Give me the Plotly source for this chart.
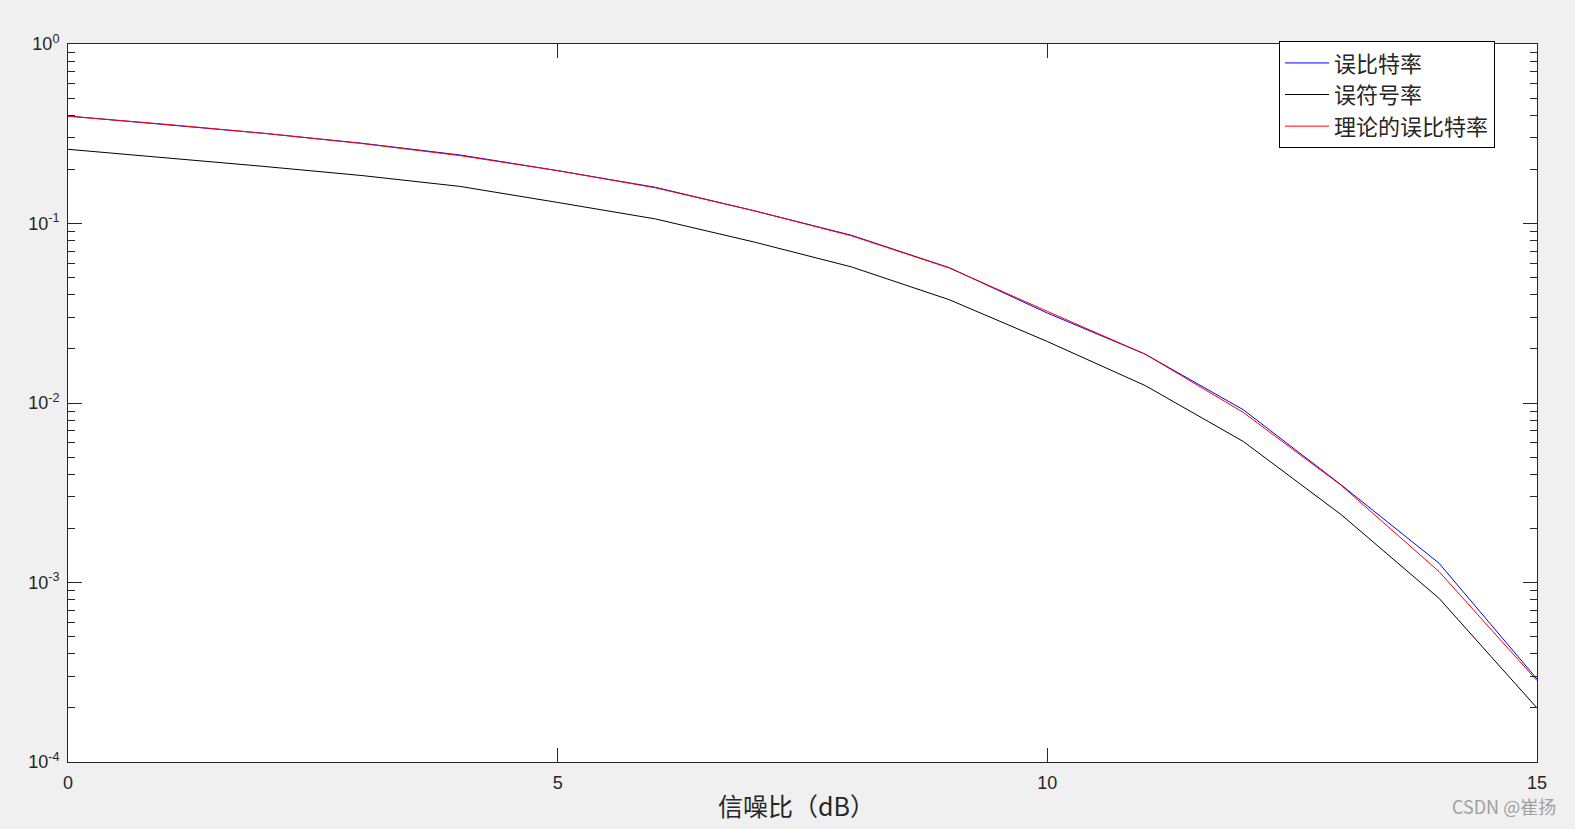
import plotly.graph_objects as go

# 信噪比 (dB)
snr_db = list(range(16))

# 误比特率 (仿真)
ber_sim = [0.397, 0.357, 0.318, 0.280, 0.241, 0.197, 0.159, 0.118, 0.0860, 0.0567,
           0.0317, 0.0187, 0.00918, 0.00350, 0.00128, 0.000290]
# 误符号率
ser_sim = [0.259, 0.233, 0.208, 0.185, 0.161, 0.131, 0.106, 0.079, 0.0573, 0.0376,
           0.0220, 0.0125, 0.00611, 0.00239, 0.000816, 0.000200]
# 理论的误比特率
ber_theory = [0.396, 0.357, 0.318, 0.279, 0.239, 0.197, 0.158, 0.118, 0.0854, 0.0565,
              0.0324, 0.0187, 0.00887, 0.00348, 0.00115, 0.000284]

y_tickvals = [1e-4, 1e-3, 1e-2, 1e-1, 1]
y_ticktext = ['10<sup>-4</sup>', '10<sup>-3</sup>', '10<sup>-2</sup>', '10<sup>-1</sup>', '10<sup>0</sup>']
x_tickvals = [0, 5, 10, 15]

axis_color = '#262626'
tick_font = dict(family='Liberation Sans, Arial', size=18, color=axis_color)

fig = go.Figure()
fig.add_trace(go.Scatter(x=snr_db, y=ber_sim, mode='lines', name='误比特率',
                         line=dict(color='#0000FF', width=1)))
fig.add_trace(go.Scatter(x=snr_db, y=ser_sim, mode='lines', name='误符号率',
                         line=dict(color='#000000', width=1)))
fig.add_trace(go.Scatter(x=snr_db, y=ber_theory, mode='lines', name='理论的误比特率',
                         line=dict(color='#FF0000', width=1)))

fig.update_xaxes(range=[0, 15], tickvals=x_tickvals, showline=True, linecolor=axis_color,
                 linewidth=1, mirror='allticks', ticks='inside', ticklen=14,
                 tickcolor=axis_color, showgrid=False, zeroline=False, tickfont=tick_font,
                 ticklabelstandoff=4)
fig.update_yaxes(type='log', range=[-4, 0], tickvals=y_tickvals, ticktext=y_ticktext,
                 showline=True, linecolor=axis_color, linewidth=1, mirror='allticks',
                 ticks='inside', ticklen=14, tickcolor=axis_color, showgrid=False,
                 zeroline=False, tickfont=tick_font, ticklabelstandoff=4,
                 minor=dict(ticks='inside', ticklen=7, dtick='D1', tickcolor=axis_color,
                            showgrid=False))

fig.add_annotation(text='信噪比（dB）', xref='paper', yref='paper', x=0.496, y=-0.06,
                   xanchor='center', yanchor='middle', showarrow=False,
                   font=dict(family='Noto Sans CJK SC', size=25, color=axis_color))
fig.add_annotation(text='CSDN @崔扬', xref='paper', yref='paper', x=1.014, y=-0.061,
                   xanchor='right', yanchor='middle', showarrow=False,
                   font=dict(family='Noto Sans CJK SC', size=18, color='#A0A0A0'))

fig.update_layout(
    width=1575, height=829,
    margin=dict(l=68, r=38, t=44, b=67),
    paper_bgcolor='#F0F0F0', plot_bgcolor='white',
    showlegend=True,
    legend=dict(x=0.8244, y=1.004, xanchor='left', yanchor='top',
                bgcolor='white', bordercolor='#000000', borderwidth=1,
                font=dict(family='Noto Sans CJK SC', size=22, color=axis_color),
                tracegroupgap=0, itemwidth=44),
)

fig.write_html('out.html', config={'displayModeBar': False},
               post_script="document.body.style.margin='0';")
